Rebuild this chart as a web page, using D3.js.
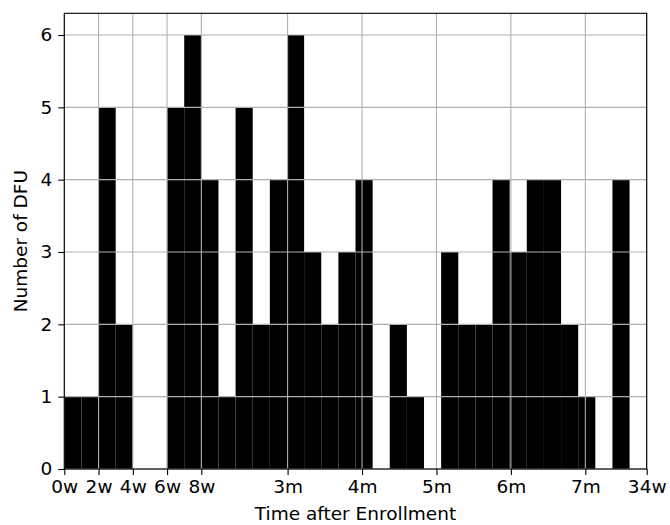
<!DOCTYPE html>
<html>
<head>
<meta charset="utf-8">
<script src="https://cdn.jsdelivr.net/npm/d3@7"></script>
<style>
  body { margin: 0; background: #fff; }
  text { font-family: "DejaVu Sans", sans-serif; }
</style>
</head>
<body>
<svg width="670" height="525"></svg>
<script>
// weekly counts, 34 bins of 7 days each
var counts = [1, 1, 5, 2, 0, 0, 5, 6, 4, 1, 5, 2, 4, 6, 3, 2, 3, 4, 0, 2, 1, 0, 3, 2, 2, 4, 3, 4, 4, 2, 1, 0, 4, 0];
var binDays = 7;

// x ticks, in days after enrollment
var tickDays = [0, 14, 28, 42, 56, 91.25, 121.67, 152.08, 182.5, 212.92, 238];
var tickLabels = ["0w", "2w", "4w", "6w", "8w", "3m", "4m", "5m", "6m", "7m", "34w"];
var yTicks = [0, 1, 2, 3, 4, 5, 6];

var svg = d3.select("svg");
var mLeft = 64.3, mRight = 646.7, mTop = 13.3, mBottom = 469;

var x = d3.scaleLinear().domain([0, 238]).range([mLeft, mRight]);
var y = d3.scaleLinear().domain([0, 6.3]).range([mBottom, mTop]);

// bars
svg.append("g").selectAll("rect")
    .data(counts).enter().append("rect")
    .attr("x", (d, i) => x(i * binDays))
    .attr("width", (d, i) => x((i + 1) * binDays) - x(i * binDays))
    .attr("y", d => y(d))
    .attr("height", d => y(0) - y(d))
    .attr("fill", "#000");

// grid on top of bars
var grid = svg.append("g").attr("stroke", "#b0b0b0").attr("stroke-width", 1.1);
grid.selectAll("line.gx").data(tickDays).enter().append("line")
    .attr("x1", d => x(d)).attr("x2", d => x(d))
    .attr("y1", mTop).attr("y2", mBottom);
grid.selectAll("line.gy").data(yTicks).enter().append("line")
    .attr("x1", mLeft).attr("x2", mRight)
    .attr("y1", d => y(d)).attr("y2", d => y(d));

// axes
var xAxis = d3.axisBottom(x).tickValues(tickDays)
    .tickFormat((d, i) => tickLabels[i]).tickSize(6).tickSizeOuter(0).tickPadding(5);
var gx = svg.append("g").attr("transform", "translate(0," + mBottom + ")").call(xAxis);

var yAxis = d3.axisLeft(y).tickValues(yTicks).tickFormat(d3.format("d"))
    .tickSize(6).tickSizeOuter(0).tickPadding(6);
var gy = svg.append("g").attr("transform", "translate(" + mLeft + ",0)").call(yAxis);

[gx, gy].forEach(g => {
    g.select(".domain").remove();
    g.selectAll("line").attr("stroke", "#000").attr("stroke-width", 1.1);
    g.selectAll("text").attr("font-size", "18.5px").attr("fill", "#000")
        .style("font-family", "DejaVu Sans");
});

// spines
svg.append("rect")
    .attr("x", mLeft).attr("y", mTop)
    .attr("width", mRight - mLeft).attr("height", mBottom - mTop)
    .attr("fill", "none").attr("stroke", "#000").attr("stroke-width", 1.1);

// labels
svg.append("text")
    .attr("x", (mLeft + mRight) / 2).attr("y", 520)
    .attr("text-anchor", "middle").attr("font-size", "18.5px")
    .text("Time after Enrollment");

svg.append("text")
    .attr("transform", "translate(27," + ((mTop + mBottom) / 2) + ") rotate(-90)")
    .attr("text-anchor", "middle").attr("font-size", "18.5px")
    .text("Number of DFU");
</script>
</body>
</html>
